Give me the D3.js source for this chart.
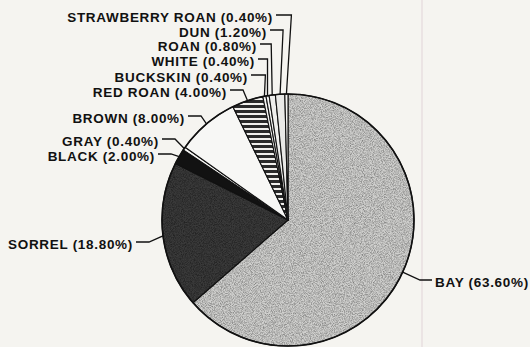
<!DOCTYPE html>
<html><head><meta charset="utf-8">
<script src="https://cdn.jsdelivr.net/npm/d3@7"></script>
<style>
html,body{margin:0;padding:0;background:#f5f4f0;}
svg{display:block;}
text{font-family:"Liberation Sans",Arial,sans-serif;font-weight:bold;fill:#111;}
</style></head>
<body>
<svg id="chart" width="530" height="347"></svg>
<script>
// ---- data ----
const categories = ["BAY","SORREL","BLACK","GRAY","BROWN","RED ROAN","BUCKSKIN","WHITE","ROAN","DUN","STRAWBERRY ROAN"];
const percents   = [63.6, 18.8, 2.0, 0.4, 8.0, 4.0, 0.4, 0.4, 0.8, 1.2, 0.4];
const labels = categories.map((c,i)=> `${c} (${percents[i].toFixed(2)}%)`);

// ---- layout (styles / label placement) ----
const W=530, H=347, cx=288, cy=220, R=126;
const fills = ["url(#bayTex)","url(#sorrelTex)","#121212","#f7f7f5","#f7f7f5","url(#stripes)","#f2f2f0","#f5f5f3","#eeeeec","#e9e9e7","#f3f3f1"];
const labelLayout = [
  {side:"right", x:435, y:280},
  {side:"left",  x:133, y:242},
  {side:"left",  x:155, y:154},
  {side:"left",  x:159, y:139},
  {side:"left",  x:185, y:116},
  {side:"left",  x:227, y:90},
  {side:"left",  x:248, y:75, vert:true, dx:1},
  {side:"left",  x:255, y:59, vert:true, dx:0},
  {side:"left",  x:257, y:44, vert:true, dx:-1},
  {side:"left",  x:267, y:30, vert:true, dx:3},
  {side:"left",  x:273, y:15, vert:true, dx:5}
];
const FS = 12.5, SX = 1.08;

const svg = d3.select("#chart");
const defs = svg.append("defs");

const f1 = defs.append("filter").attr("id","noise").attr("x",0).attr("y",0).attr("width","100%").attr("height","100%");
f1.append("feTurbulence").attr("type","fractalNoise").attr("baseFrequency",1.1).attr("numOctaves",2).attr("seed",3).attr("result","n");
f1.append("feColorMatrix").attr("in","n").attr("type","matrix")
  .attr("values","0 0 0 0 0  0 0 0 0 0  0 0 0 0 0  0 0 0 -1.6 1.05").attr("result","a");
f1.append("feComposite").attr("in","a").attr("in2","SourceGraphic").attr("operator","in");

function texPattern(id, base, dark, op){
  const p = defs.append("pattern").attr("id",id).attr("patternUnits","userSpaceOnUse")
    .attr("width",W).attr("height",H);
  p.append("rect").attr("width",W).attr("height",H).attr("fill",base);
  p.append("rect").attr("width",W).attr("height",H).attr("fill",dark).attr("filter","url(#noise)").attr("opacity",op);
}
texPattern("bayTex","#d0d0ce","#6a6a6a",0.45);
texPattern("sorrelTex","#3a3a3a","#080808",0.55);

const st = defs.append("pattern").attr("id","stripes").attr("patternUnits","userSpaceOnUse")
  .attr("width",10).attr("height",5);
st.append("rect").attr("width",10).attr("height",5).attr("fill","#f0efec");
st.append("rect").attr("width",10).attr("height",3).attr("fill","#2a2a2a");

svg.append("rect").attr("width",W).attr("height",H).attr("fill","#f5f4f0");
svg.append("line").attr("x1",422).attr("x2",422).attr("y1",0).attr("y2",H)
  .attr("stroke","#ebe4e4").attr("stroke-width",2);

const data = categories.map((c,i)=>({cat:c, value:percents[i], label:labels[i], i}));
const pie = d3.pie().value(d=>d.value).sort(null).startAngle(0).endAngle(2*Math.PI);
const arcs = pie(data);
const arc = d3.arc().innerRadius(0).outerRadius(R);

const g = svg.append("g").attr("transform",`translate(${cx},${cy})`);
g.selectAll("path.slice").data(arcs).join("path")
  .attr("class","slice")
  .attr("d",arc)
  .attr("fill",(d,i)=>fills[i])
  .attr("stroke","#111").attr("stroke-width",1.1).attr("stroke-linejoin","round");
g.append("circle").attr("r",R).attr("fill","none").attr("stroke","#111").attr("stroke-width",1.6);

const edgePt = d => {
  const a = (d.startAngle+d.endAngle)/2;
  return [cx + R*Math.sin(a), cy - R*Math.cos(a)];
};
arcs.forEach((d,i)=>{
  const L = labelLayout[i];
  const [px,py] = edgePt(d);
  let pts;
  if (L.side==="right"){
    pts = [[px,py],[L.x-15,L.y],[L.x-3,L.y]];
  } else if (L.vert){
    const ex = px + L.dx;
    pts = [[L.x+3,L.y],[ex,L.y],[px,py]];
  } else {
    pts = [[L.x+3,L.y],[L.x+16,L.y],[px,py]];
  }
  svg.append("path").attr("d",d3.line()(pts)).attr("fill","none")
    .attr("stroke","#111").attr("stroke-width",1.3);
  svg.append("text")
    .attr("transform",`translate(${L.x},${L.y+2.5}) scale(${SX},1)`)
    .attr("text-anchor",L.side==="right"?"start":"end")
    .attr("dominant-baseline","central")
    .attr("font-size",FS+"px").attr("letter-spacing","0.65px")
    .text(d.data.label);
});
</script>
</body></html>
